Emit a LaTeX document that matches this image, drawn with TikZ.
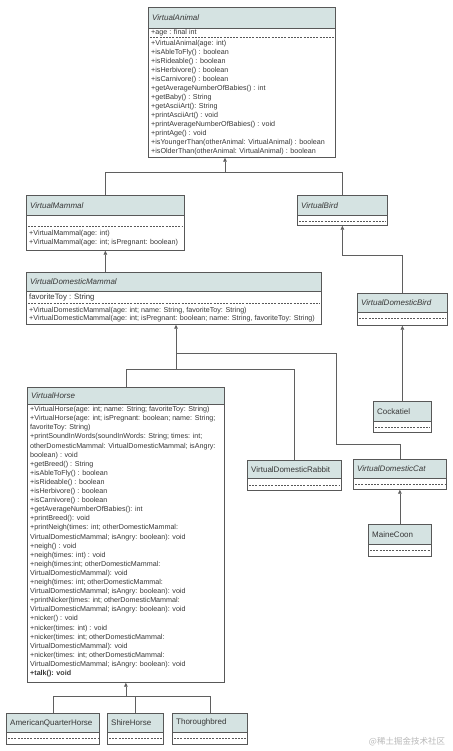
\documentclass[tikz,border=0pt]{standalone}
\usepackage{fontspec}
\setmainfont{Liberation Sans}
\newfontfamily\cjkfont{Noto Sans CJK SC}
\usetikzlibrary{arrows.meta}

\definecolor{hdrfill}{RGB}{213,227,226}
\definecolor{boxline}{RGB}{88,88,88}
\definecolor{connline}{RGB}{95,95,95}
\definecolor{txtgray}{RGB}{55,55,55}

\tikzset{
  classbox/.style={draw=boxline,line width=0.7pt,fill=white,anchor=north west,inner sep=0pt},
  classhead/.style={draw=boxline,line width=0.7pt,fill=hdrfill,anchor=north west,inner sep=0pt},
  classname/.style={anchor=west,inner sep=0pt,text=txtgray,font=\fontsize{8}{9}\selectfont},
  member/.style={anchor=mid west,inner sep=0pt,text=txtgray,font=\fontsize{7.15}{8}\selectfont},
  sepline/.style={draw=boxline,dash pattern=on 2pt off 1.2pt,line width=0.5pt},
  inherit/.style={draw=connline,line width=0.7pt},
  inhtip/.style={inherit,-{Triangle[length=4pt,width=3.6pt]}},
}

% name, x, y, width, height, head height, title
\newcommand{\umlclass}[7]{%
  \node[classbox,minimum width=#4pt,minimum height=#5pt] (#1) at (#2,#3) {};
  \node[classhead,minimum width=#4pt,minimum height=#6pt] (#1-head) at (#2,#3) {};
  \node[classname] (#1-title) at ([xshift=4pt]#1-head.west) {#7};
}
% dashed line, some pt below the head
\newcommand{\umlsep}[2]{%
  \draw[sepline] ([shift={(2pt,-#2pt)}]#1-head.south west) -- ([shift={(-2pt,-#2pt)}]#1-head.south east);
}
% node, first offset, step, lines
\newcommand{\umlmembers}[4]{%
  \foreach \m [count=\i from 0] in {#4}
    \node[member] (#1-m\i) at ([xshift=3pt,yshift={-(#2+\i*#3)}]#1.north west) {\m};
}

\begin{document}
\begin{tikzpicture}[x=1pt,y=-1pt]
  \useasboundingbox (0,0) rectangle (452,751);

  % classes
  \umlclass{vanimal}{148}{7}{187}{150}{21}{\itshape VirtualAnimal}
  \umlclass{vmammal}{26}{195}{158}{55}{20}{\itshape VirtualMammal}
  \umlclass{vbird}{297}{195}{90}{30}{20}{\itshape VirtualBird}
  \umlclass{vdmammal}{26}{272}{295}{52}{19}{\itshape VirtualDomesticMammal}
  \umlclass{vdbird}{357}{293}{90}{32}{19}{\itshape VirtualDomesticBird}
  \umlclass{cockatiel}{373}{401}{58}{31}{20}{Cockatiel}
  \umlclass{vhorse}{27}{387}{197}{295}{17}{\itshape VirtualHorse}
  \umlclass{vrabbit}{247}{460}{94}{30}{18}{VirtualDomesticRabbit}
  \umlclass{vcat}{353}{459}{93}{30}{19}{\itshape VirtualDomesticCat}
  \umlclass{mainecoon}{368}{524}{63}{32}{20}{MaineCoon}
  \umlclass{aqhorse}{6}{713}{93}{31}{19}{AmericanQuarterHorse}
  \umlclass{shire}{107}{713}{56}{31}{19}{ShireHorse}
  \umlclass{thorough}{172}{713}{75}{31}{19}{Thoroughbred}

  % dashed separators
  \umlsep{vanimal}{8.8}
  \umlsep{vmammal}{11}
  \umlsep{vbird}{6}
  \umlsep{vdmammal}{12}
  \umlsep{vdbird}{6}
  \umlsep{cockatiel}{6}
  \umlsep{vrabbit}{7}
  \umlsep{vcat}{6}
  \umlsep{mainecoon}{6}
  \umlsep{aqhorse}{6}
  \umlsep{shire}{6}
  \umlsep{thorough}{6}

  % members
  \node[member] (vanimal-f) at ([xshift=3pt,yshift=-25pt]vanimal.north west) {+age : final int};
  \umlmembers{vanimal}{35.5}{9}{+VirtualAnimal(age: int),+isAbleToFly() : boolean,+isRideable() : boolean,
    +isHerbivore() : boolean,+isCarnivore() : boolean,+getAverageNumberOfBabies() : int,+getBaby() : String,
    +getAsciiArt(): String,+printAsciiArt() : void,+printAverageNumberOfBabies() : void,+printAge() : void,
    +isYoungerThan(otherAnimal: VirtualAnimal) : boolean,+isOlderThan(otherAnimal: VirtualAnimal) : boolean}
  \umlmembers{vmammal}{38}{9}{+VirtualMammal(age: int),+VirtualMammal(age: int; isPregnant: boolean)}
  \node[member,font=\fontsize{7.8}{8}\selectfont] (vdmammal-f) at ([xshift=3pt,yshift=-25pt]vdmammal.north west) {favoriteToy : String};
  \umlmembers{vdmammal}{37.5}{8.7}{{+VirtualDomesticMammal(age: int; name: String, favoriteToy: String)},
    {+VirtualDomesticMammal(age: int; isPregnant: boolean; name: String, favoriteToy: String)}}
  \umlmembers{vhorse}{22}{9.1}{+VirtualHorse(age: int; name: String; favoriteToy: String),
    +VirtualHorse(age: int; isPregnant: boolean; name: String;,favoriteToy: String),
    +printSoundInWords(soundInWords: String; times: int;,otherDomesticMammal: VirtualDomesticMammal; isAngry:,
    boolean) : void,+getBreed() : String,+isAbleToFly() : boolean,+isRideable() : boolean,
    +isHerbivore() : boolean,+isCarnivore() : boolean,+getAverageNumberOfBabies(): int,+printBreed(): void,
    +printNeigh(times: int; otherDomesticMammal:,VirtualDomesticMammal; isAngry: boolean): void,
    +neigh() : void,+neigh(times: int) : void,+neigh(times:int; otherDomesticMammal:,VirtualDomesticMammal): void,
    +neigh(times: int; otherDomesticMammal:,VirtualDomesticMammal; isAngry: boolean): void,
    +printNicker(times: int; otherDomesticMammal:,VirtualDomesticMammal; isAngry: boolean): void,
    +nicker() : void,+nicker(times: int) : void,+nicker(times: int; otherDomesticMammal:,VirtualDomesticMammal): void,
    +nicker(times: int; otherDomesticMammal:,VirtualDomesticMammal; isAngry: boolean): void,\textbf{+talk(): void}}

  % inheritance
  \coordinate (j1) at (225,172);
  \draw[inherit] (vmammal.north) |- (j1);
  \draw[inherit] (vbird.north) |- (j1);
  \draw[inhtip] (j1) -- (j1 |- vanimal.south);
  \draw[inhtip] (vmammal.south |- vdmammal.north) -- (vmammal.south);
  \coordinate (j2) at (vbird.south |- 0,255);
  \draw[inherit] (vdbird.north) |- (j2);
  \draw[inhtip] (j2) -- (vbird.south);
  \draw[inhtip] (cockatiel.north) -- (vdbird.south);
  \coordinate (j3) at (176,353);
  \coordinate (j4) at (176,369);
  \coordinate (k1) at (336,444);
  \draw[inherit] (vcat.north) |- (k1) |- (j3);
  \draw[inherit] (vhorse.north) |- (j4);
  \draw[inherit] (vrabbit.north) |- (j4);
  \draw[inhtip] (j4) -- (j4 |- vdmammal.south);
  \draw[inhtip] (mainecoon.north) -- (vcat.south);
  \coordinate (j5) at ([yshift=-14pt]vhorse.south);
  \draw[inherit] (aqhorse.north) |- (j5);
  \draw[inherit] (shire.north) |- (j5);
  \draw[inherit] (thorough.north) |- (j5);
  \draw[inhtip] (j5) -- (vhorse.south);

  \node[text=black!28,font=\fontsize{8.5}{9}\selectfont,inner sep=0pt] (wmark) at (407,742) {\cjkfont @稀土掘金技术社区};
\end{tikzpicture}
\end{document}
